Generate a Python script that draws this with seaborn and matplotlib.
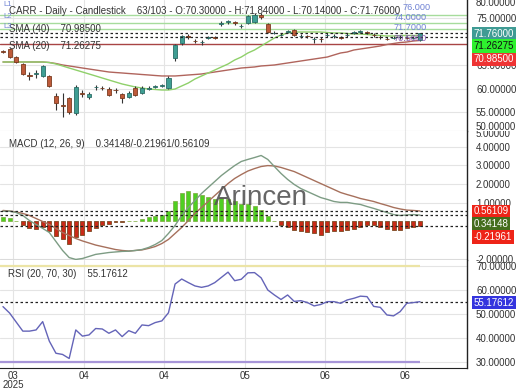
import numpy as np
import pandas as pd
import matplotlib
matplotlib.use("Agg")
import matplotlib.pyplot as plt
import matplotlib.transforms as mtrans
import seaborn as sns

# ---------------- data ----------------
open_ = [67.9, 68.4, 66.7, 65.2, 62.9, 63.2, 62.7, 62.7, 58.5, 56.5, 58.05, 54.9, 59.2, 58.3, 60.3, 60.2,
         59.95, 59.8, 58.9, 58.3, 60.2, 59.1, 60.0, 60.4, 60.6, 60.2, 66.5, 69.7, 71.1, 70.1, 69.9, 70.8,
         70.9, 73.7, 74.1, 74.0, 73.2, 73.9, 74.1, 75.6, 73.7, 71.8, 71.35, 72.0, 72.4, 71.1, 71.2, 70.5,
         70.6, 71.3, 71.1, 70.9, 71.3, 71.8, 72.0, 71.9, 71.4, 71.0, 70.6, 70.7, 70.9, 70.8, 70.7, 70.30]
high = [68.2, 68.7, 66.9, 65.4, 63.5, 64.0, 65.1, 62.9, 59.1, 59.1, 58.3, 60.7, 59.8, 59.4, 60.9, 60.6,
        60.3, 60.2, 59.1, 59.5, 60.6, 60.5, 60.5, 60.9, 61.1, 62.6, 69.5, 71.4, 71.5, 70.5, 70.3, 71.2,
        71.2, 74.2, 74.6, 74.4, 73.6, 75.6, 75.9, 75.9, 73.9, 72.1, 71.7, 72.4, 72.7, 71.5, 71.4, 70.9,
        70.9, 71.7, 71.5, 71.2, 71.7, 72.2, 72.4, 72.2, 71.7, 71.3, 70.9, 71.1, 71.3, 71.1, 71.1, 71.84]
low = [67.5, 66.5, 65.4, 62.9, 61.8, 62.3, 62.5, 60.4, 55.5, 54.0, 54.6, 54.5, 58.2, 57.9, 59.8, 59.7,
       58.4, 59.2, 56.9, 58.0, 58.5, 58.9, 59.7, 60.1, 60.4, 60.0, 65.9, 69.3, 70.6, 69.6, 69.2, 70.5,
       70.5, 73.3, 73.7, 73.5, 72.9, 73.7, 73.9, 74.8, 71.8, 71.5, 71.1, 71.7, 71.1, 70.8, 70.8, 69.7,
       69.9, 71.0, 70.8, 70.5, 71.0, 71.5, 71.7, 71.5, 71.0, 70.6, 70.2, 70.4, 70.6, 70.4, 70.4, 70.14]
close = [67.8, 66.7, 65.65, 63.1, 62.8, 63.4, 64.8, 60.6, 57.0, 56.3, 55.1, 60.4, 59.0, 58.9, 60.4, 60.1,
         58.7, 59.7, 58.05, 59.1, 58.7, 60.2, 60.1, 60.5, 60.7, 62.3, 69.2, 71.1, 71.0, 70.0, 69.9, 70.9,
         70.8, 73.8, 74.2, 73.8, 73.3, 75.35, 75.6, 75.1, 72.0, 71.85, 71.4, 72.1, 71.35, 71.2, 71.1, 70.6,
         70.5, 71.4, 71.2, 70.8, 71.4, 71.9, 72.1, 71.8, 71.3, 70.9, 70.5, 70.8, 71.0, 70.7, 70.8, 71.76]
sma20 = [65.65, 65.65, 65.65, 65.65, 65.65, 65.65, 65.65, 65.54, 65.23, 64.81, 64.38, 63.96, 63.54, 63.12,
         62.70, 62.27, 61.85, 61.43, 61.01, 60.69, 60.38, 60.16, 59.95, 59.85, 59.74, 59.74, 59.95, 60.59,
         61.22, 62.06, 62.70, 63.33, 63.96, 64.60, 65.23, 66.07, 66.70, 67.55, 68.18, 69.03, 69.87, 70.71,
         71.35, 71.77, 71.98, 71.98, 71.98, 71.98, 71.98, 71.87, 71.77, 71.77, 71.66, 71.56, 71.56, 71.45,
         71.35, 71.24, 71.14, 71.14, 71.24, 71.24, 71.24, 71.26]
sma40 = [65.65, 65.65, 65.65, 65.65, 65.65, 65.65, 65.65, 65.54, 65.33, 65.02, 64.81, 64.60, 64.38, 64.17,
         63.96, 63.75, 63.54, 63.43, 63.33, 63.22, 63.12, 63.01, 62.91, 62.80, 62.70, 62.70, 62.70, 62.80,
         62.91, 63.01, 63.12, 63.33, 63.54, 63.75, 63.96, 64.17, 64.38, 64.49, 64.60, 64.81, 64.91, 65.02,
         65.23, 65.44, 65.65, 65.86, 66.07, 66.28, 66.49, 66.70, 67.13, 67.55, 67.76, 68.18, 68.39, 68.60,
         68.81, 69.03, 69.34, 69.55, 69.76, 69.87, 70.08, 70.19]
macd = [0.55, 0.55, 0.48, 0.32, 0.05, -0.16, -0.37, -0.59, -1.07, -1.55, -1.93, -2.03, -1.98, -1.87,
        -1.76, -1.71, -1.66, -1.63, -1.60, -1.59, -1.55, -1.50, -1.39, -1.23, -1.02, -0.64, -0.21, 0.32,
        0.75, 1.12, 1.50, 1.82, 2.14, 2.46, 2.73, 2.99, 3.21, 3.32, 3.42, 3.53, 3.32, 2.94, 2.57, 2.25,
        1.98, 1.76, 1.60, 1.44, 1.28, 1.18, 1.07, 1.02, 1.02, 0.96, 0.91, 0.80, 0.70, 0.59, 0.48, 0.37,
        0.32, 0.35, 0.37, 0.34148]
signal = [0.59, 0.56, 0.51, 0.43, 0.32, 0.16, 0.0, -0.16, -0.37, -0.59, -0.75, -0.91, -1.04, -1.15,
          -1.26, -1.34, -1.42, -1.50, -1.55, -1.58, -1.55, -1.52, -1.44, -1.34, -1.18, -0.96, -0.64, -0.32,
          0.05, 0.43, 0.75, 1.07, 1.39, 1.71, 2.03, 2.30, 2.51, 2.70, 2.83, 2.94, 2.99, 2.97, 2.89, 2.78,
          2.67, 2.51, 2.35, 2.19, 2.03, 1.87, 1.71, 1.55, 1.44, 1.34, 1.23, 1.15, 1.07, 0.96, 0.86, 0.75,
          0.67, 0.61, 0.59, 0.56109]
hist = [0.23, 0.18, 0.0, -0.2, -0.35, -0.4, -0.32, -0.52, -0.78, -0.96, -1.18, -0.82, -0.7, -0.53,
        -0.34, -0.21, -0.12, -0.05, -0.03, 0.0, 0.0, 0.15, 0.23, 0.28, 0.35, 0.55, 1.09, 1.5, 1.62, 1.53,
        1.39, 1.32, 1.21, 1.27, 1.18, 1.09, 0.91, 0.91, 0.82, 0.64, 0.32, 0.0, -0.2, -0.27, -0.47, -0.52,
        -0.57, -0.64, -0.7, -0.57, -0.52, -0.52, -0.43, -0.39, -0.27, -0.2, -0.2, -0.27, -0.39, -0.43,
        -0.43, -0.34, -0.27, -0.21961]
rsi = [53.1, 50.4, 46.6, 42.8, 42.8, 43.3, 46.8, 38.6, 33.5, 33.0, 31.3, 43.3, 40.7, 41.2, 43.9, 43.7,
       41.9, 43.3, 40.5, 43.0, 41.9, 45.4, 45.1, 46.4, 47.1, 50.5, 62.6, 64.7, 63.2, 61.8, 61.2, 61.8,
       63.2, 65.4, 67.6, 64.0, 64.6, 67.3, 67.4, 65.2, 60.1, 58.0, 56.1, 58.0, 55.3, 55.6, 54.8, 53.4,
       54.0, 55.2, 55.2, 54.5, 55.9, 56.6, 57.5, 57.3, 53.2, 52.8, 49.6, 49.2, 51.0, 54.5, 54.8, 55.17612]

level_values = [75.57, 73.88, 72.61]
level_labels = ["76.000", "74.0000", "71.7000"]
red_level = 69.45
x_tick_pos = [1.5, 12.3, 24.3, 36.5, 48.6, 60.8]
x_tick_labels = ["03\n2025", "04", "04", "05", "06", "06"]
price_ticks = [55, 60, 65, 75]
macd_ticks = [-2, 1, 2, 3, 4]
rsi_ticks = [30, 40, 50, 60, 70]

last_close = 71.76
sma20_last = 71.26275
sma40_last = 70.985
macd_last, hist_last, signal_last = 0.34148, -0.21961, 0.56109
rsi_last = 55.17612

# ---------------- figure ----------------
sns.set_theme(style="white")
plt.rcParams["font.family"] = ["Liberation Sans", "DejaVu Sans"]
W, H = 520, 390
fig = plt.figure(figsize=(W / 100, H / 100), dpi=100)
fig.patch.set_facecolor("white")


def ax_at(top, bottom, left=0, right=467):
    return fig.add_axes([left / W, 1 - bottom / H, (right - left) / W, (bottom - top) / H])


ax1 = ax_at(0, 131)
ax2 = ax_at(131, 260)
ax3 = ax_at(260, 368)

n = len(close)
x = np.arange(n)
df = pd.DataFrame({"x": x, "open": open_, "high": high, "low": low, "close": close,
                   "sma20": sma20, "sma40": sma40, "macd": macd, "signal": signal,
                   "hist": hist, "rsi": rsi})

XMIN, XMAX = -0.45, 70.1
GRID = "#e4e4e4"
TXT = "#333333"
FS = 7

for ax in (ax1, ax2, ax3):
    ax.set_xlim(XMIN, XMAX)
    ax.set_facecolor("white")
    ax.set_xticks(x_tick_pos)
    ax.grid(True, color=GRID, lw=0.8)
    ax.set_axisbelow(True)
    for s in ("left", "top"):
        ax.spines[s].set_visible(False)
    ax.spines["right"].set_color("#222222")
    ax.spines["right"].set_linewidth(1.0)
    ax.spines["bottom"].set_color("#444444")
    ax.spines["bottom"].set_linewidth(0.8)
    ax.yaxis.tick_right()
    ax.tick_params(axis="y", length=0, pad=6.5, labelsize=FS, labelcolor=TXT)
    ax.tick_params(axis="x", length=0)

ax1.tick_params(axis="x", labelbottom=False)
ax2.tick_params(axis="x", labelbottom=False)
ax1.spines["bottom"].set_color("#cccccc")
ax3.spines["bottom"].set_color("#222222")

fmt = matplotlib.ticker.FormatStrFormatter("%.5f")

# ---------------- price panel ----------------
ax1.set_ylim(51.09, 78.73)
ax1.set_yticks(price_ticks)
ax1.yaxis.set_major_formatter(fmt)

for v in level_values:
    ax1.axhline(v, color="#a6dc9c", lw=1.0, zorder=1)
ax1.axhline(red_level, color="#a84444", lw=1.0, zorder=1)

sns.lineplot(data=df, x="x", y="sma40", ax=ax1, color="#b0645c", lw=1.0, zorder=2)
sns.lineplot(data=df, x="x", y="sma20", ax=ax1, color="#8fd06a", lw=1.0, zorder=2)

up = df["close"] >= df["open"]
body_lo = np.minimum(df["open"], df["close"])
body_h = np.abs(df["close"] - df["open"])
ax1.vlines(df["x"], df["low"], df["high"], color="#333333", lw=0.8, zorder=3)
ax1.bar(df["x"][up], body_h[up], bottom=body_lo[up], width=0.62,
        color="#3f9e93", edgecolor="#2b6d66", lw=0.6, zorder=4)
ax1.bar(df["x"][~up], body_h[~up], bottom=body_lo[~up], width=0.62,
        color="#bd5a3a", edgecolor="#7a3b1f", lw=0.6, zorder=4)

ax1.axhline(last_close, color="#222222", lw=0.9, ls=(0, (2, 2)), zorder=5)
ax1.axhline(sma40_last, color="#222222", lw=0.9, ls=(0, (2, 2)), zorder=5)

# level labels sit just above their lines, stacked at the right of the data
for ypix, xr, lab in zip((7.5, 17.5, 27.0), (431, 427, 427), level_labels):
    fig.text(xr / W, 1 - ypix / H, lab, ha="right", va="center", fontsize=6.6,
             color="#6f82d4", zorder=6)
fig.text(427 / W, 1 - 38.5 / H, "70.5000", ha="right", va="center", fontsize=6.6,
         color="#8a5ab0", zorder=6)

fig.text(9 / W, 1 - 11 / H,
         "CARR - Daily - Candlestick    63/103 - O:70.30000 - H:71.84000 - L:70.14000 - C:71.76000",
         fontsize=FS, color=TXT, va="center", ha="left")
fig.text(9 / W, 1 - 29 / H, "SMA (40)    70.98500", fontsize=FS, color=TXT, va="center")
fig.text(9 / W, 1 - 46 / H, "SMA (20)    71.26275", fontsize=FS, color=TXT, va="center")
for yy, lab in zip((5, 16, 26), ("L1", "L2", "L3")):
    fig.text(3 / W, 1 - yy / H, lab, fontsize=5.5, color="#6f82d4", va="center")
ax1.set_xlabel("")
ax1.set_ylabel("")

# ---------------- MACD panel ----------------
ax2.set_ylim(-2.06, 4.84)
ax2.set_yticks(macd_ticks)
ax2.yaxis.set_major_formatter(fmt)
pos = df["hist"] >= 0
ax2.bar(df["x"][pos], df["hist"][pos], width=0.6, color="#4fcf22", edgecolor="#7aa83a", lw=0.5, zorder=2)
ax2.bar(df["x"][~pos], df["hist"][~pos], width=0.6, color="#c92a18", edgecolor="#7a4a22", lw=0.6, zorder=2)
sns.lineplot(data=df, x="x", y="signal", ax=ax2, color="#a6705c", lw=1.0, zorder=3)
sns.lineplot(data=df, x="x", y="macd", ax=ax2, color="#7d9c84", lw=1.0, zorder=3)
for v in (signal_last, macd_last, hist_last):
    ax2.axhline(v, color="#222222", lw=0.9, ls=(0, (2, 2)), zorder=4)
ax2.text(261 / 467, 0.48, "Arincen", transform=ax2.transAxes, ha="center", va="center",
         fontsize=20, color="#555555", alpha=0.9, zorder=5)
ax2.set_xlabel("")
ax2.set_ylabel("")
fig.text(9 / W, 1 - 144 / H, "MACD (12, 26, 9)    0.34148/-0.21961/0.56109",
         fontsize=FS, color=TXT, va="center")

# ---------------- RSI panel ----------------
ax3.set_ylim(27.3, 72.7)
ax3.set_yticks(rsi_ticks)
ax3.yaxis.set_major_formatter(fmt)
ax3.hlines(70, XMIN, x[-1], color="#ece4a6", lw=1.6, zorder=2)
ax3.hlines(30, XMIN, x[-1], color="#a795d8", lw=1.6, zorder=2)
ax3.axhline(rsi_last, color="#222222", lw=0.9, ls=(0, (2, 2)), zorder=3)
sns.lineplot(data=df, x="x", y="rsi", ax=ax3, color="#6464b8", lw=1.0, zorder=4)
ax3.set_xlabel("")
ax3.set_ylabel("")
ax3.set_xticks(x_tick_pos)
ax3.set_xticklabels(x_tick_labels)
ax3.tick_params(axis="x", labelsize=FS, labelcolor=TXT, pad=2)
for lab in ax3.get_xticklabels():
    lab.set_linespacing(0.95)
fig.text(8 / W, 1 - 274 / H, "RSI (20, 70, 30)    55.17612", fontsize=FS, color=TXT, va="center")

# ---------------- right-side labels ----------------
strip1 = ax_at(0, 131, 468, 520)
strip2 = ax_at(131, 260, 468, 520)
for s in (strip1, strip2):
    s.set_axis_off()
    s.set_xlim(0, 1)
    s.set_ylim(1, 0)
strip1.text(8 / 52, 3 / 131, "80.00000", fontsize=FS, color=TXT, va="center", clip_on=True)
strip1.text(8 / 52, 127 / 131, "50.00000", fontsize=FS, color=TXT, va="center", clip_on=True)
strip2.text(8 / 52, 3 / 129, "5.00000", fontsize=FS, color=TXT, va="center", clip_on=True)


def rlabel(ypix, text, bg, fg):
    fig.text(473.5 / W, 1 - ypix / H, text, fontsize=FS, color=fg, va="center", ha="left",
             bbox=dict(boxstyle="square,pad=0.18", fc=bg, ec="none"), zorder=10)


rlabel(34, "71.76000", "#3f9b94", "white")
rlabel(46, "71.26275", "#2ef02e", "#111111")
rlabel(59.5, "70.98500", "#ee3434", "white")
rlabel(211.5, "0.56109", "#ee2418", "white")
rlabel(224, "0.34148", "#456d1d", "white")
rlabel(237, "-0.21961", "#ee2418", "white")
rlabel(302.5, "55.17612", "#3434de", "white")

fig.savefig("out.png", dpi=100, facecolor="white")
